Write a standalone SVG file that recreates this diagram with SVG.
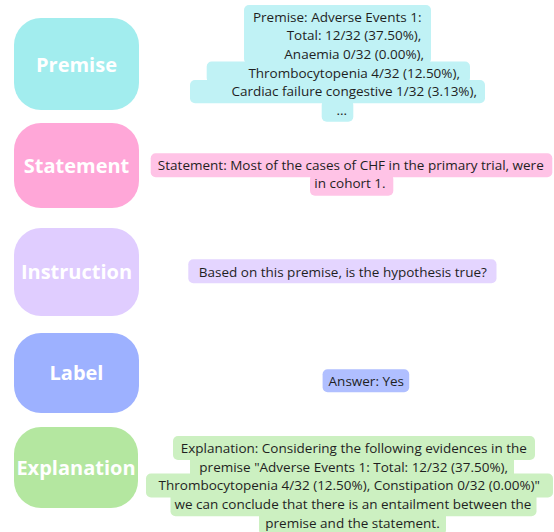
<svg xmlns="http://www.w3.org/2000/svg" width="554" height="532" viewBox="0 0 554 532">
<style>
.lbl{font-family:"Open Sans","Liberation Sans",sans-serif;font-weight:700;font-size:20px;fill:#ffffff;text-anchor:middle}
.txt{font-family:"Open Sans","Liberation Sans",sans-serif;font-size:13.5px;fill:#1f1f1f;text-anchor:middle}
.p{fill:#a2edee}.ph{fill:#c0f2f5}
.s{fill:#ffa7d8}.sh{fill:#ffc3e6}
.i{fill:#e0cdff}.ih{fill:#e4d5ff}
.l{fill:#9db1ff}.lh{fill:#b0bfff}
.e{fill:#b4e7a0}.eh{fill:#ccf0c1}
</style>
<rect width="554" height="532" fill="#ffffff"/>
<g id="premise">
<rect class="p" x="14" y="18" width="125" height="92" rx="27"/>
<text class="lbl" x="76.5" y="71.5">Premise</text>
</g>
<g id="premise-text">
<rect class="ph" x="244" y="5" width="187" height="59" rx="5"/>
<rect class="ph" x="206.7" y="61.5" width="263.3" height="21.5" rx="5"/>
<rect class="ph" x="190" y="80" width="295" height="23.3" rx="5"/>
<rect class="ph" x="321.7" y="100" width="31.6" height="21.7" rx="5"/>
<text class="txt" x="337.2" y="21.5">Premise: Adverse Events 1:</text>
<text class="txt" x="354" y="40.2">Total: 12/32 (37.50%),</text>
<text class="txt" x="354.2" y="58.9">Anaemia 0/32 (0.00%),</text>
<text class="txt" x="354.2" y="77.6">Thrombocytopenia 4/32 (12.50%),</text>
<text class="txt" x="354.2" y="96.3">Cardiac failure congestive 1/32 (3.13%),</text>
<text class="txt" x="341.7" y="115">...</text>
</g>
<g id="statement">
<rect class="s" x="14" y="123" width="125" height="85" rx="27"/>
<text class="lbl" x="76.5" y="172.5">Statement</text>
</g>
<g id="statement-text">
<rect class="sh" x="150.7" y="153.3" width="401.6" height="24" rx="5"/>
<rect class="sh" x="310" y="174" width="83.3" height="21.7" rx="5"/>
<text class="txt" x="350.8" y="170">Statement: Most of the cases of CHF in the primary trial, were</text>
<text class="txt" x="350" y="188.3">in cohort 1.</text>
</g>
<g id="instruction">
<rect class="i" x="14" y="228" width="125" height="88" rx="27"/>
<text class="lbl" x="76.5" y="279">Instruction</text>
</g>
<g id="instruction-text">
<rect class="ih" x="188.3" y="259.3" width="308.2" height="24" rx="5"/>
<text class="txt" x="342.8" y="276.7">Based on this premise, is the hypothesis true?</text>
</g>
<g id="label">
<rect class="l" x="14" y="333" width="125" height="80" rx="27"/>
<text class="lbl" x="76.5" y="380">Label</text>
</g>
<g id="label-text">
<rect class="lh" x="322.6" y="369.3" width="86.6" height="23" rx="5"/>
<text class="txt" x="366.3" y="385.7">Answer: Yes</text>
</g>
<g id="explanation">
<rect class="e" x="14" y="427" width="124" height="81" rx="27"/>
<text class="lbl" x="76" y="475">Explanation</text>
</g>
<g id="explanation-text">
<rect class="eh" x="173" y="436" width="362" height="24" rx="5"/>
<rect class="eh" x="190" y="455" width="324" height="24" rx="5"/>
<rect class="eh" x="146" y="473.5" width="407" height="24" rx="5"/>
<rect class="eh" x="170.5" y="492.3" width="366" height="24" rx="5"/>
<rect class="eh" x="259" y="511" width="187" height="24" rx="5"/>
<text class="txt" x="353.8" y="452.7">Explanation: Considering the following evidences in the</text>
<text class="txt" x="353.7" y="471.5">premise "Adverse Events 1: Total: 12/32 (37.50%),</text>
<text class="txt" x="349.3" y="490.3">Thrombocytopenia 4/32 (12.50%), Constipation 0/32 (0.00%)"</text>
<text class="txt" x="353" y="509.1">we can conclude that there is an entailment between the</text>
<text class="txt" x="352.5" y="527.9">premise and the statement.</text>
</g>
<g id="connectors"></g>
</svg>
